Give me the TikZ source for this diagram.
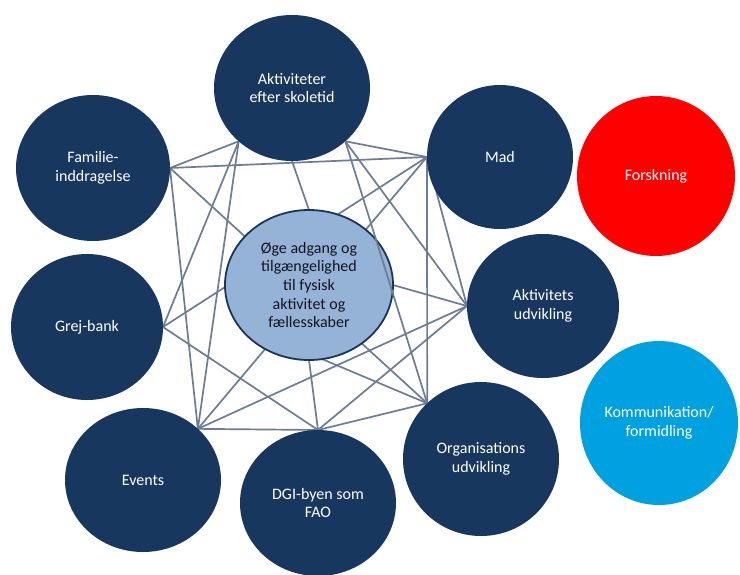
\documentclass[tikz,border=0pt]{standalone}
\usepackage{fontspec}
\setmainfont{Carlito}
\usetikzlibrary{shapes.geometric,backgrounds}
\definecolor{navy}{RGB}{23,55,94}
\definecolor{webc}{RGB}{108,124,150}
\definecolor{cfill}{RGB}{149,179,215}
\definecolor{cborder}{RGB}{28,52,90}
\definecolor{ctext}{RGB}{20,20,30}
\definecolor{redc}{RGB}{255,0,0}
\definecolor{bluec}{RGB}{0,161,224}
\begin{document}
\begin{tikzpicture}[x=1pt,y=-1pt,
  bub/.style={ellipse, fill=navy, inner sep=0pt, outer sep=0pt, text=white,
    align=center, font=\fontsize{16}{18.5}\selectfont},
  web/.style={draw=webc, line width=1.7pt}]
\useasboundingbox (0,0) rectangle (740,574);

% outer circles
\node[bub, minimum width=156pt, minimum height=146pt] (akt) at (292,88) {Aktiviteter\\efter skoletid};
\node[bub, minimum width=154pt, minimum height=146pt] (fam) at (93,168) {Familie-\\inddragelse};
\node[bub, minimum width=152pt, minimum height=146pt] (gr) at (87,327) {Grej-bank};
\node[bub, minimum width=146pt, minimum height=144pt] (mad) at (500,157) {Mad};
\node[bub, minimum width=152pt, minimum height=144pt] (au) at (543,306) {Aktivitets\\udvikling};
\node[bub, minimum width=156pt, minimum height=154pt] (org) at (481,459) {Organisations\\udvikling};
\node[bub, minimum width=156pt, minimum height=144pt] (ev) at (143,480) {Events};
\node[bub, minimum width=156pt, minimum height=146pt] (dgi) at (318,503) {DGI-byen som\\FAO};
\node[bub, fill=redc, minimum width=158pt, minimum height=160pt] (fors) at (656,176) {Forskning};
\node[bub, fill=bluec, inner xsep=-20pt, minimum width=158pt, minimum height=164pt] (kom) at (659,423) {Kommunikation/\\formidling};

% centre
\node[ellipse, fill=cfill, draw=cborder, line width=1.8pt, inner sep=0pt, outer sep=0pt,
  minimum width=168pt, minimum height=150pt, align=center, text=ctext,
  font=\fontsize{16}{18.7}\selectfont] (c) at (309,285)
  {Øge adgang og\\tilgængelighed\\til fysisk\\aktivitet og\\fællesskaber};

\begin{scope}[on background layer]
\fill[white] (0,0) rectangle (740,574);
\draw[web] (fam.east) -- (akt.-135);
\draw[web] (fam.east) -- (mad.west);
\draw[web] (fam.east) -- (org.134);
\draw[web] (fam.east) -- (ev.43);
\draw[web] (akt.-135) -- (gr.east);
\draw[web] (akt.-135) -- (ev.43);
\draw[web] (akt.-45) -- (mad.west);
\draw[web] (akt.-45) -- (au.west);
\draw[web] (akt.south) -- (c.north);
\draw[web] (mad.west) -- (org.134);
\draw[web] (mad.west) -- (au.west);
\draw[web] (mad.west) -- (ev.43);
\draw[web] (gr.east) -- (mad.west);
\draw[web] (gr.east) -- (dgi.north);
\draw[web] (ev.43) -- (dgi.north);
\draw[web] (ev.43) -- (au.west);
\draw[web] (dgi.north) -- (c.south);
\draw[web] (dgi.north) -- (au.west);
\draw[web] (dgi.north) -- (org.134);
\draw[web] (c.east) -- (au.west);
\draw[web] (c.-80) -- (org.134);
\end{scope}
\draw[web] (akt.-45) -- (org.134);
\end{tikzpicture}
\end{document}
